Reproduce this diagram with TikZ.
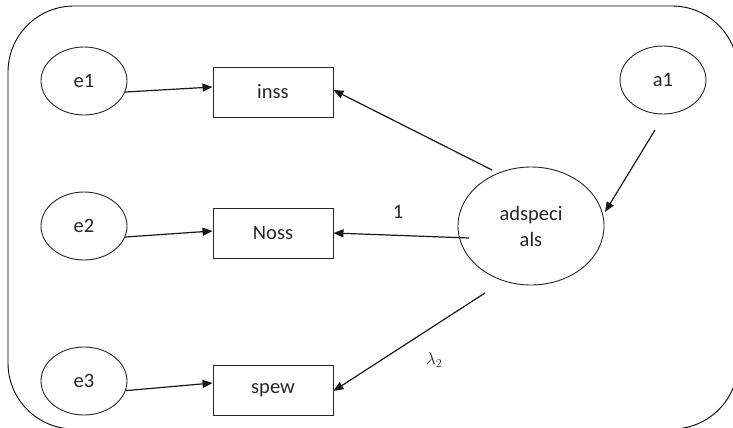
\documentclass[tikz,border=0pt]{standalone}
\usepackage{fontspec}
\setmainfont{Carlito}
\usetikzlibrary{arrows.meta,shapes.geometric}
\begin{document}
\begin{tikzpicture}[x=1pt,y=-1pt,
  every node/.style={font=\fontsize{20.5}{26}\selectfont, text=black!85},
  latent/.style={ellipse, draw=black!85, line width=0.9pt, inner sep=0pt},
  errvar/.style={latent, minimum width=86pt, minimum height=68pt},
  indicator/.style={rectangle, draw=black!85, line width=0.9pt, minimum width=120pt, minimum height=50pt, inner sep=0pt},
  path/.style={line width=1.2pt, draw=black!90, -{Triangle[length=10pt,width=8pt]}}]
\useasboundingbox (0,0) rectangle (733,428);
\fill[white] (0,0) rectangle (733,428);
% outer frame
\draw[line width=0.9pt, rounded corners=66pt] (8,6) rectangle (738,429);
% error terms and disturbance
\node[errvar] (e1) at (84,81) {e1};
\node[errvar] (e2) at (84,226) {e2};
\node[errvar] (e3) at (84,381) {e3};
\node[errvar] (a1) at (663,80) {a1};
% observed indicators
\node[indicator] (inss) at (273,92) {inss};
\node[indicator] (noss) at (273,233) {Noss};
\node[indicator] (spew) at (273,390) {spew};
% latent construct
\node[latent, minimum width=146pt, minimum height=118pt, align=center] (ads) at (531,226) {adspeci\\als};
% paths
\draw[path] (e1.-15) -- ([yshift=5pt]inss.west);
\draw[path] (e2.-15) -- ([yshift=2pt]noss.west);
\draw[path] (e3.-13) -- ([yshift=7pt]spew.west);
\draw[path] ([shift={(-39pt,56pt)}]ads.center) -- ([yshift=2pt]inss.east);
\draw[path] ([shift={(-62pt,-12pt)}]ads.center) -- ([yshift=0pt]noss.east);
\draw[path] ([shift={(-46pt,-67pt)}]ads.center) -- ([yshift=-1pt]spew.east);
\draw[path] ([shift={(-8pt,-50pt)}]a1.center) -- ([shift={(74pt,14pt)}]ads.center);
% loadings
\node (l1) at (398,212) {1};
\node[font=\fontsize{17}{19}\selectfont] (l2) at (434,360) {$\lambda_2$};
\end{tikzpicture}
\end{document}
